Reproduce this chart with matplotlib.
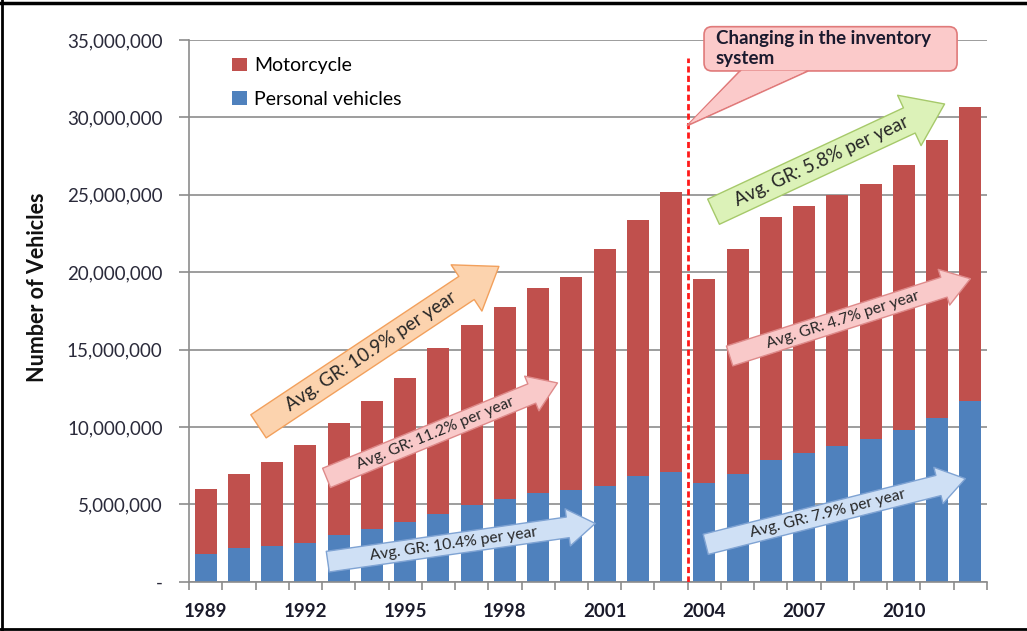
import math
import matplotlib
matplotlib.use('Agg')
import matplotlib.pyplot as plt
from matplotlib.patches import FancyArrowPatch, FancyBboxPatch, Polygon
from matplotlib.lines import Line2D
from matplotlib.transforms import IdentityTransform

plt.rcParams['font.family'] = ['Lato', 'DejaVu Sans']

# Data
years = list(range(1989, 2013))
total = [5.99, 6.94, 7.76, 8.84, 10.28, 11.68, 13.19, 15.13, 16.60, 17.78,
         19.00, 19.68, 21.49, 23.36, 25.21, 19.57, 21.49, 23.55, 24.27, 25.00,
         25.71, 26.94, 28.53, 30.69]
personal = [1.79, 2.16, 2.29, 2.52, 3.00, 3.43, 3.84, 4.38, 4.96, 5.35,
            5.75, 5.91, 6.21, 6.81, 7.07, 6.38, 6.94, 7.89, 8.30, 8.79,
            9.20, 9.79, 10.56, 11.68]
personal = [v * 1e6 for v in personal]
motorcycle = [t * 1e6 - p for t, p in zip(total, personal)]

year_labels = [str(y) if (y - 1989) % 3 == 0 else '' for y in years]
y_ticks = [0, 5e6, 10e6, 15e6, 20e6, 25e6, 30e6, 35e6]
y_tick_labels = ['-', '5,000,000', '10,000,000', '15,000,000', '20,000,000',
                 '25,000,000', '30,000,000', '35,000,000']

# Growth-rate arrows: (label, tail, tip, face, edge, size)
growth = [
    ('Avg. GR: 10.9% per year', (1.52, 9.94e6), (8.89, 20.47e6), '#fcd3ae', '#f2a05c', 'big'),
    ('Avg. GR: 11.2% per year', (3.56, 6.64e6), (10.66, 12.91e6), '#f9c9c9', '#de8a8a', 'small'),
    ('Avg. GR: 10.4% per year', (3.59, 1.27e6), (11.80, 3.79e6), '#cfe0f5', '#7fa3d3', 'small'),
    ('Avg. GR: 5.8% per year', (15.20, 23.83e6), (22.30, 30.94e6), '#dcf2b8', '#a6c96a', 'big'),
    ('Avg. GR: 4.7% per year', (15.68, 14.53e6), (23.08, 19.63e6), '#f9c9c9', '#de8a8a', 'small'),
    ('Avg. GR: 7.9% per year', (14.96, 2.37e6), (22.93, 6.70e6), '#cfe0f5', '#7fa3d3', 'small'),
]

fig = plt.figure(figsize=(10.27, 6.31), dpi=100)
ax = fig.add_axes([189 / 1027, 1 - 581.7 / 631, 798 / 1027, 541.7 / 631])

x = list(range(len(years)))
ax.bar(x, personal, width=0.66, color='#4f81bd', label='Personal vehicles', zorder=2)
ax.bar(x, motorcycle, width=0.66, bottom=personal, color='#c0504d', label='Motorcycle', zorder=2)

ax.set_xlim(-0.5, len(years) - 0.5)
ax.set_ylim(0, 35e6)
ax.set_yticks(y_ticks)
ax.set_yticklabels(y_tick_labels, fontsize=13.5, color='#2a2a3a')
ax.set_xticks(x)
ax.set_xticklabels(year_labels, fontsize=13.5, color='#1a1a2a', fontweight='bold')
ax.set_xticks([i - 0.5 for i in range(len(years) + 1)], minor=True)
ax.tick_params(axis='x', which='major', length=0, pad=15)
ax.tick_params(axis='x', which='minor', length=6, color='#8c8c8c', width=1.2)
ax.tick_params(axis='y', length=7, color='#8c8c8c', width=1.2, pad=12)
ax.grid(axis='y', color='#8c8c8c', lw=1.2, zorder=0)
ax.set_axisbelow(True)
for s in ['top', 'right']:
    ax.spines[s].set_visible(False)
for s in ['left', 'bottom']:
    ax.spines[s].set_color('#8c8c8c')
    ax.spines[s].set_linewidth(1.2)

fig.text(38 / 1027, 1 - 287 / 631, 'Number of Vehicles', rotation=90, ha='center', va='center',
         fontsize=15.5, fontweight='bold', color='#111111')

handles, labels = ax.get_legend_handles_labels()
ax.legend(handles[::-1], labels[::-1], loc='upper left', bbox_to_anchor=(0.054, 0.968),
          frameon=False, fontsize=14, handlelength=0.75, handleheight=0.7, borderpad=0,
          borderaxespad=0, labelspacing=0.85, handletextpad=0.4)

# inventory system change
ax.plot([14.5, 14.5], [0, 33.85e6], color='#ff1a1a', lw=2, ls=(0, (2.2, 1.2)), zorder=3)

# growth arrows
for label, tail, tip, face, edge, size in growth:
    if size == 'big':
        style = 'simple,head_length=28,head_width=40,tail_width=20'
        fs = 13.5
    else:
        style = 'simple,head_length=20,head_width=27,tail_width=15'
        fs = 11.3
    arr = FancyArrowPatch(tail, tip, arrowstyle=style, mutation_scale=1,
                          facecolor=face, edgecolor=edge, lw=1, zorder=4,
                          transform=ax.transData)
    ax.add_patch(arr)
    p0 = ax.transData.transform(tail)
    p1 = ax.transData.transform(tip)
    ang = math.degrees(math.atan2(p1[1] - p0[1], p1[0] - p0[0]))
    f = 0.47
    tx = tail[0] + f * (tip[0] - tail[0])
    ty = tail[1] + f * (tip[1] - tail[1])
    ax.text(tx, ty, label, rotation=ang, rotation_mode='anchor', ha='center', va='center',
            fontsize=fs, color='#262626', zorder=5)

# callout box
tri = [(16.07, 33.0e6), (18.12, 33.0e6), (14.48, 29.46e6)]
ax.add_patch(Polygon(tri, closed=True, facecolor='#fbcaca', edgecolor='#e07a7a', lw=1.2,
                     zorder=6, clip_on=False))
bx0, by0 = ax.transData.transform((14.99, 33.0e6))
bx1, by1 = ax.transData.transform((22.60, 35.86e6))
box = FancyBboxPatch((bx0, by0), bx1 - bx0, by1 - by0, boxstyle='round,pad=0,rounding_size=8',
                     facecolor='#fbcaca', edgecolor='#e07a7a', lw=1.2,
                     transform=IdentityTransform(), zorder=7)
fig.add_artist(box)
tri_in = [(16.12, 33.02e6), (18.07, 33.02e6), (14.55, 29.6e6)]
cover = Polygon(tri_in, closed=True, facecolor='#fbcaca', edgecolor='none', zorder=8,
                clip_on=False, transform=ax.transData)
fig.add_artist(cover)
fig.text(716 / 1027, 1 - 48.5 / 631, 'Changing in the inventory\nsystem', ha='left', va='center',
         fontsize=13.5, fontweight='bold', color='#1a1a2e', linespacing=1.15, zorder=9)

# frame
fig.add_artist(Line2D([0, 1], [1 - 3 / 631, 1 - 3 / 631], color='black', lw=2.5))
fig.add_artist(Line2D([0, 1], [1 - 629 / 631, 1 - 629 / 631], color='black', lw=2))
fig.add_artist(Line2D([2 / 1027, 2 / 1027], [0, 1], color='black', lw=2))

fig.savefig('out.png', dpi=100)
